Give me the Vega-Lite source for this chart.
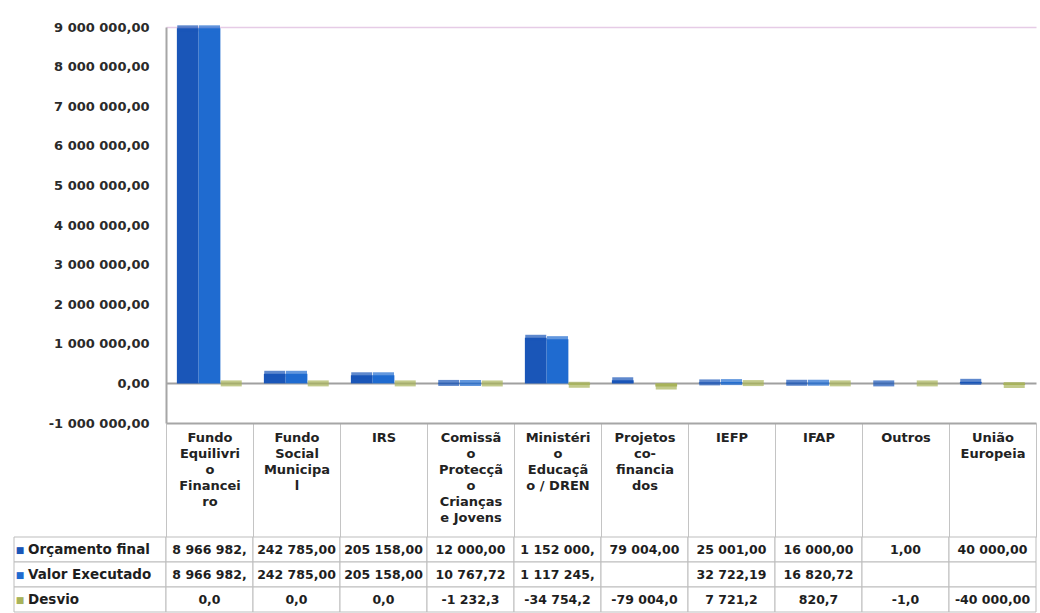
{
  "$schema": "https://vega.github.io/schema/vega-lite/v6.json",
  "padding": {"left": 13, "top": 21, "right": 0, "bottom": 0},
  "background": "white",
  "config": {
    "locale": {"number": {"decimal": ",", "thousands": " ", "grouping": [3], "currency": ["", " €"], "minus": "-"}},
    "view": {"stroke": null},
    "font": "DejaVu Sans"
  },
  "datasets": {
    "budget": [
      {"cat": "Fundo Equilivrio Financeiro", "series": "Orçamento final", "value": 8966982, "txt": "8 966 982,"},
      {"cat": "Fundo Equilivrio Financeiro", "series": "Valor Executado", "value": 8966982, "txt": "8 966 982,"},
      {"cat": "Fundo Equilivrio Financeiro", "series": "Desvio", "value": 0, "txt": "0,0"},
      {"cat": "Fundo Social Municipal", "series": "Orçamento final", "value": 242785, "txt": "242 785,00"},
      {"cat": "Fundo Social Municipal", "series": "Valor Executado", "value": 242785, "txt": "242 785,00"},
      {"cat": "Fundo Social Municipal", "series": "Desvio", "value": 0, "txt": "0,0"},
      {"cat": "IRS", "series": "Orçamento final", "value": 205158, "txt": "205 158,00"},
      {"cat": "IRS", "series": "Valor Executado", "value": 205158, "txt": "205 158,00"},
      {"cat": "IRS", "series": "Desvio", "value": 0, "txt": "0,0"},
      {"cat": "Comissão Protecção Crianças e Jovens", "series": "Orçamento final", "value": 12000, "txt": "12 000,00"},
      {"cat": "Comissão Protecção Crianças e Jovens", "series": "Valor Executado", "value": 10767.72, "txt": "10 767,72"},
      {"cat": "Comissão Protecção Crianças e Jovens", "series": "Desvio", "value": -1232.3, "txt": "-1 232,3"},
      {"cat": "Ministério Educação / DREN", "series": "Orçamento final", "value": 1152000, "txt": "1 152 000,"},
      {"cat": "Ministério Educação / DREN", "series": "Valor Executado", "value": 1117245.8, "txt": "1 117 245,"},
      {"cat": "Ministério Educação / DREN", "series": "Desvio", "value": -34754.2, "txt": "-34 754,2"},
      {"cat": "Projetos co-financiados", "series": "Orçamento final", "value": 79004, "txt": "79 004,00"},
      {"cat": "Projetos co-financiados", "series": "Valor Executado", "value": null, "txt": ""},
      {"cat": "Projetos co-financiados", "series": "Desvio", "value": -79004, "txt": "-79 004,0"},
      {"cat": "IEFP", "series": "Orçamento final", "value": 25001, "txt": "25 001,00"},
      {"cat": "IEFP", "series": "Valor Executado", "value": 32722.19, "txt": "32 722,19"},
      {"cat": "IEFP", "series": "Desvio", "value": 7721.2, "txt": "7 721,2"},
      {"cat": "IFAP", "series": "Orçamento final", "value": 16000, "txt": "16 000,00"},
      {"cat": "IFAP", "series": "Valor Executado", "value": 16820.72, "txt": "16 820,72"},
      {"cat": "IFAP", "series": "Desvio", "value": 820.7, "txt": "820,7"},
      {"cat": "Outros", "series": "Orçamento final", "value": 1, "txt": "1,00"},
      {"cat": "Outros", "series": "Valor Executado", "value": null, "txt": ""},
      {"cat": "Outros", "series": "Desvio", "value": -1, "txt": "-1,0"},
      {"cat": "União Europeia", "series": "Orçamento final", "value": 40000, "txt": "40 000,00"},
      {"cat": "União Europeia", "series": "Valor Executado", "value": null, "txt": ""},
      {"cat": "União Europeia", "series": "Desvio", "value": -40000, "txt": "-40 000,00"}
    ],
    "series": [
      {"series": "Orçamento final"},
      {"series": "Valor Executado"},
      {"series": "Desvio"}
    ]
  },
  "columns": 2,
  "bounds": "flush",
  "spacing": {"row": 114, "column": 0},
  "concat": [
    {
      "width": 152,
      "height": 396,
      "data": {"values": [{}]},
      "mark": {"type": "text", "text": ""}
    },
    {
      "width": 870,
      "height": 396,
      "data": {"name": "budget"},
      "encoding": {
        "x": {
          "field": "cat", "type": "nominal", "sort": null,
          "scale": {"paddingInner": 0, "paddingOuter": 0},
          "axis": {
            "title": null,
            "labelExpr": "({'Fundo Equilivrio Financeiro': ['Fundo','Equilivri','o','Financei','ro'], 'Fundo Social Municipal': ['Fundo','Social','Municipa','l'], 'Comissão Protecção Crianças e Jovens': ['Comissã','o','Protecçã','o','Crianças','e Jovens'], 'Ministério Educação / DREN': ['Ministéri','o','Educaçã','o / DREN'], 'Projetos co-financiados': ['Projetos','co-','financia','dos'], 'União Europeia': ['União','Europeia']})[datum.label] || datum.label",
            "labelAngle": 0,
            "labelBaseline": "top",
            "labelAlign": "center",
            "labelLineHeight": 16,
            "labelFont": "DejaVu Sans",
            "labelFontWeight": "bold",
            "labelFontSize": 13,
            "labelColor": "#222222",
            "labelPadding": -106,
            "labelOverlap": false,
            "labelLimit": 0,
            "labelBound": false,
            "tickBand": "extent",
            "tickSize": 114,
            "tickColor": "#c4c4c4",
            "tickWidth": 1,
            "domainColor": "#a6a6a6",
            "domainWidth": 2
          }
        },
        "xOffset": {
          "field": "series", "type": "nominal",
          "sort": ["Orçamento final", "Valor Executado", "Desvio"],
          "scale": {"paddingInner": 0, "paddingOuter": 0.5}
        },
        "y": {
          "field": "value", "type": "quantitative",
          "scale": {"domain": [-1000000, 9000000], "nice": false},
          "axis": {
            "title": null,
            "values": [-1000000, 0, 1000000, 2000000, 3000000, 4000000, 5000000, 6000000, 7000000, 8000000, 9000000],
            "format": ",.2f",
            "ticks": false,
            "labelPadding": 17,
            "labelFont": "DejaVu Sans",
            "labelFontWeight": "bold",
            "labelFontSize": 13,
            "labelColor": "#2a2a2a",
            "labelOverlap": false,
            "domainColor": "#a6a6a6",
            "domainWidth": 2,
            "grid": true,
            "gridColor": {"condition": {"test": "datum.value === 0", "value": "#a0a0a0"}, "value": "#e6cce6"},
            "gridOpacity": {"condition": {"test": "datum.value === 0 || datum.value === 9000000", "value": 1}, "value": 0},
            "gridWidth": {"condition": {"test": "datum.value === 0", "value": 2}, "value": 1.5}
          }
        },
        "color": {
          "field": "series", "type": "nominal",
          "scale": {"domain": ["Orçamento final", "Valor Executado", "Desvio"], "range": ["#1a56b8", "#1f6bd0", "#a8b35a"]},
          "legend": null
        }
      },
      "layer": [
        {"mark": {"type": "bar"}},
        {"mark": {"type": "tick", "thickness": 6, "size": 21, "orient": "horizontal"}}
      ]
    },
    {
      "width": 152,
      "height": 75,
      "data": {"name": "series"},
      "encoding": {
        "y": {"field": "series", "type": "nominal", "sort": null, "scale": {"paddingInner": 0, "paddingOuter": 0}, "axis": null}
      },
      "layer": [
        {"mark": {"type": "rect", "fill": "white", "stroke": "#bdbdbd", "strokeWidth": 1}},
        {
          "mark": {"type": "text", "text": "■", "align": "center", "dx": 6, "fontSize": 9},
          "encoding": {
            "x": {"datum": "l", "type": "nominal", "scale": {"type": "band", "paddingInner": 0, "paddingOuter": 0}, "axis": null, "bandPosition": 0},
            "color": {"field": "series", "type": "nominal", "scale": {"domain": ["Orçamento final", "Valor Executado", "Desvio"], "range": ["#1a56b8", "#1f6bd0", "#a8b35a"]}, "legend": null}
          }
        },
        {
          "mark": {"type": "text", "align": "left", "dx": 14, "font": "DejaVu Sans", "fontWeight": "bold", "fontSize": 13.5, "color": "#1e1e1e"},
          "encoding": {
            "x": {"datum": "l", "type": "nominal", "scale": {"type": "band", "paddingInner": 0, "paddingOuter": 0}, "axis": null, "bandPosition": 0},
            "text": {"field": "series"}
          }
        }
      ]
    },
    {
      "width": 870,
      "height": 75,
      "data": {"name": "budget"},
      "encoding": {
        "x": {"field": "cat", "type": "nominal", "sort": null, "scale": {"paddingInner": 0, "paddingOuter": 0}, "axis": null},
        "y": {"field": "series", "type": "nominal", "sort": ["Orçamento final", "Valor Executado", "Desvio"], "scale": {"paddingInner": 0, "paddingOuter": 0}, "axis": null}
      },
      "layer": [
        {"mark": {"type": "rect", "fill": "white", "stroke": "#bdbdbd", "strokeWidth": 1}},
        {"mark": {"type": "text", "font": "DejaVu Sans", "fontWeight": "bold", "fontSize": 12.5, "color": "#1e1e1e"}, "encoding": {"text": {"field": "txt"}}}
      ]
    }
  ]
}
